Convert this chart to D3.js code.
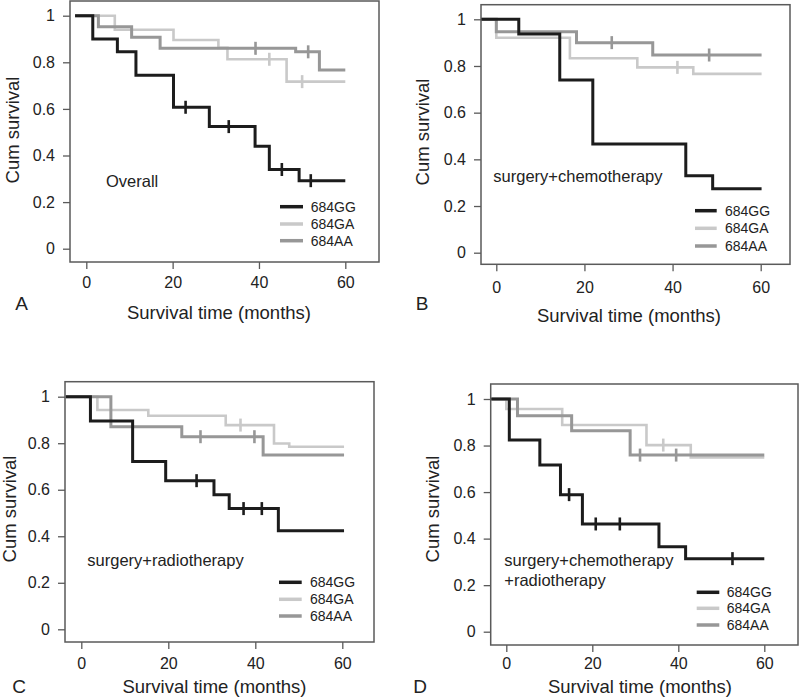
<!DOCTYPE html>
<html><head><meta charset="utf-8">
<script src="https://cdn.jsdelivr.net/npm/d3@7"></script>
<style>body{margin:0;background:#fff}svg{display:block}text{font-family:"Liberation Sans",Arial,Helvetica,sans-serif;fill:#222}</style>
</head><body><svg id="c" width="800" height="700"></svg>
<script>
// ---- data ----
const groups = ["684GG", "684GA", "684AA"];
const panelLetters = ["A", "B", "C", "D"];
const panelNotes = [["Overall"], ["surgery+chemotherapy"], ["surgery+radiotherapy"], ["surgery+chemotherapy", "+radiotherapy"]];
const xTicks = [0, 20, 40, 60];
const yTicks = [0, 0.2, 0.4, 0.6, 0.8, 1];
const xLabel = "Survival time (months)";
const yLabel = "Cum survival";

// Panel A (Overall)
const A_GG_time = [1.5, 7.2, 11.5, 20.2, 28.5, 39.1, 42.4, 49.3];
const A_GG_surv = [0.90, 0.845, 0.744, 0.607, 0.524, 0.44, 0.34, 0.292];
const A_GG_cens = [23.0, 33.0, 45.3, 52.0];
const A_GA_time = [6.6, 20.2, 30.6, 32.7, 46.4];
const A_GA_surv = [0.94, 0.896, 0.862, 0.813, 0.717];
const A_GA_cens = [42.4, 50.0];
const A_AA_time = [2.8, 10.5, 17.1, 48.5, 54.0];
const A_AA_surv = [0.953, 0.907, 0.86, 0.845, 0.767];
const A_AA_cens = [39.2, 51.4];

// Panel B (surgery+chemotherapy)
const B_GG_time = [5.1, 14.4, 21.9, 43.0, 49.1];
const B_GG_surv = [0.937, 0.74, 0.466, 0.33, 0.274];
const B_GG_cens = [];
const B_GA_time = [0, 16.7, 32.0, 44.7];
const B_GA_surv = [0.921, 0.833, 0.794, 0.766];
const B_GA_cens = [41.1];
const B_AA_time = [0, 18.2, 35.5];
const B_AA_surv = [0.947, 0.90, 0.847];
const B_AA_cens = [26.2, 48.3];

// Panel C (surgery+radiotherapy)
const C_GG_time = [2.1, 11.8, 19.4, 30.5, 34.0, 45.3];
const C_GG_surv = [0.895, 0.721, 0.639, 0.579, 0.519, 0.424];
const C_GG_cens = [26.5, 37.3, 41.5];
const C_GA_time = [3.7, 15.4, 33.2, 44.3, 47.8];
const C_GA_surv = [0.943, 0.918, 0.878, 0.799, 0.785];
const C_GA_cens = [36.6];
const C_AA_time = [6.8, 23.1, 41.8];
const C_AA_surv = [0.871, 0.828, 0.749];
const C_AA_cens = [27.4, 39.8];

// Panel D (surgery+chemotherapy+radiotherapy)
const D_GG_time = [0.7, 7.8, 12.6, 17.7, 35.5, 41.7];
const D_GG_surv = [0.824, 0.716, 0.589, 0.463, 0.365, 0.314];
const D_GG_cens = [14.6, 20.8, 26.4, 52.6];
const D_GA_time = [0, 13.0, 32.6, 42.9];
const D_GA_surv = [0.957, 0.888, 0.802, 0.749];
const D_GA_cens = [36.5];
const D_AA_time = [2.6, 15.2, 28.8];
const D_AA_surv = [0.928, 0.864, 0.759];
const D_AA_cens = [31.1, 39.5];

const startTimes = [-2.6, -3.4, -3.6, -3.5];
const endTimes = [60, 60.2, 60.4, 60];

const panelData = [
  [[A_GG_time, A_GG_surv, A_GG_cens], [A_GA_time, A_GA_surv, A_GA_cens], [A_AA_time, A_AA_surv, A_AA_cens]],
  [[B_GG_time, B_GG_surv, B_GG_cens], [B_GA_time, B_GA_surv, B_GA_cens], [B_AA_time, B_AA_surv, B_AA_cens]],
  [[C_GG_time, C_GG_surv, C_GG_cens], [C_GA_time, C_GA_surv, C_GA_cens], [C_AA_time, C_AA_surv, C_AA_cens]],
  [[D_GG_time, D_GG_surv, D_GG_cens], [D_GA_time, D_GA_surv, D_GA_cens], [D_AA_time, D_AA_surv, D_AA_cens]]
];

// ---- layout & style ----
const layouts = [
  {fx:70, fy:1, fx2:379, fy2:262, x0:86.3, x60:345.3, y1:15.7, y0:248.7, pad:8,
   letter:[21.5,303], xl:[219,313], yl:[12.5,130], note:[106,181], leg:{l1:280,l2:303,tx:310.7,ys:[206.7,224,240.7]}},
  {fx:481, fy:4.7, fx2:790, fy2:264.3, x0:496.3, x60:760.7, y1:19.3, y0:252.7, pad:10,
   letter:[422,303], xl:[629,316], yl:[423,132], note:[493.3,176.7], leg:{l1:695,l2:716.7,tx:725,ys:[210.7,228.3,246]}},
  {fx:65, fy:381.7, fx2:374, fy2:642, x0:81.3, x60:342.3, y1:396.7, y0:629.3, pad:9,
   letter:[19,686], xl:[214.5,687], yl:[10,509], note:[87.3,560], leg:{l1:279,l2:301.7,tx:310,ys:[582.3,599.3,616]}},
  {fx:490.7, fy:384, fx2:798, fy2:645, x0:506.3, x60:764.3, y1:399, y0:631.7, pad:6,
   letter:[420,686], xl:[640,687], yl:[433,509], note:[504.3,560], leg:{l1:696.7,l2:719.3,tx:726.7,ys:[592.3,608.3,625]}}
];
const colors = ["#1c1c1c", "#c9c9c9", "#979797"];
const widths = [3, 2.6, 3];
const frameColor = "#5a5a5a";

const svg = d3.select("#c");
const fmt = v => v === 0 ? "0" : v === 1 ? "1" : d3.format(".1f")(v);

panelData.forEach((series, p) => {
  const L = layouts[p];
  const x = d3.scaleLinear().domain([0, 60]).range([L.x0, L.x60]);
  const y = d3.scaleLinear().domain([0, 1]).range([L.y0, L.y1]);
  const g = svg.append("g");

  // axes
  const ax = g.append("g").attr("transform", `translate(0,${L.fy2})`)
    .call(d3.axisBottom(x).tickValues(xTicks).tickSize(7).tickPadding(L.pad).tickFormat(d3.format("d")));
  const ay = g.append("g").attr("transform", `translate(${L.fx},0)`)
    .call(d3.axisLeft(y).tickValues(yTicks).tickSize(7).tickPadding(8).tickFormat(fmt));
  [ax, ay].forEach(a => {
    a.select(".domain").remove();
    a.selectAll(".tick line").attr("stroke", frameColor).attr("stroke-width", 1.3);
    a.selectAll(".tick text").style("font-size", "16px").attr("fill", "#222");
  });

  // frame
  g.append("rect").attr("x", L.fx).attr("y", L.fy).attr("width", L.fx2 - L.fx).attr("height", L.fy2 - L.fy)
    .attr("fill", "none").attr("stroke", frameColor).attr("stroke-width", 1.5);

  const line = d3.line().x(d => x(d[0])).y(d => y(d[1])).curve(d3.curveStepAfter);

  // draw in order: GA (light), AA, GG on top
  [1, 2, 0].forEach(k => {
    const [t, s, c] = series[k];
    const pts = [[startTimes[p], 1]];
    t.forEach((ti, i) => pts.push([ti, s[i]]));
    pts.push([endTimes[p], s[s.length - 1]]);
    g.append("path").attr("d", line(pts)).attr("fill", "none")
      .attr("stroke", colors[k]).attr("stroke-width", widths[k]).attr("stroke-linejoin", "miter");
    const stepVal = tc => {
      let v = 1;
      t.forEach((ti, i) => { if (ti <= tc) v = s[i]; });
      return v;
    };
    g.selectAll(null).data(c).enter().append("line")
      .attr("x1", d => x(d)).attr("x2", d => x(d))
      .attr("y1", d => y(stepVal(d)) - 6.5).attr("y2", d => y(stepVal(d)) + 6.5)
      .attr("stroke", colors[k]).attr("stroke-width", 2.6);
  });

  // annotation
  panelNotes[p].forEach((txt, i) => {
    g.append("text").attr("x", L.note[0]).attr("y", L.note[1] + i * 20).attr("dy", "0.35em")
      .style("font-size", "16.5px").text(txt);
  });

  // legend
  groups.forEach((name, k) => {
    g.append("line").attr("x1", L.leg.l1).attr("x2", L.leg.l2).attr("y1", L.leg.ys[k]).attr("y2", L.leg.ys[k])
      .attr("stroke", colors[k]).attr("stroke-width", 3.5);
    g.append("text").attr("x", L.leg.tx).attr("y", L.leg.ys[k]).attr("dy", "0.35em")
      .style("font-size", "14px").text(name);
  });

  // labels
  g.append("text").attr("x", L.xl[0]).attr("y", L.xl[1]).attr("dy", "0.35em").attr("text-anchor", "middle")
    .style("font-size", "18.5px").text(xLabel);
  g.append("text").attr("transform", `translate(${L.yl[0]},${L.yl[1]}) rotate(-90)`).attr("dy", "0.35em")
    .attr("text-anchor", "middle").style("font-size", "18.5px").text(yLabel);
  g.append("text").attr("x", L.letter[0]).attr("y", L.letter[1]).attr("dy", "0.35em").attr("text-anchor", "middle")
    .style("font-size", "19px").text(panelLetters[p]);
});
</script>
</body></html>
